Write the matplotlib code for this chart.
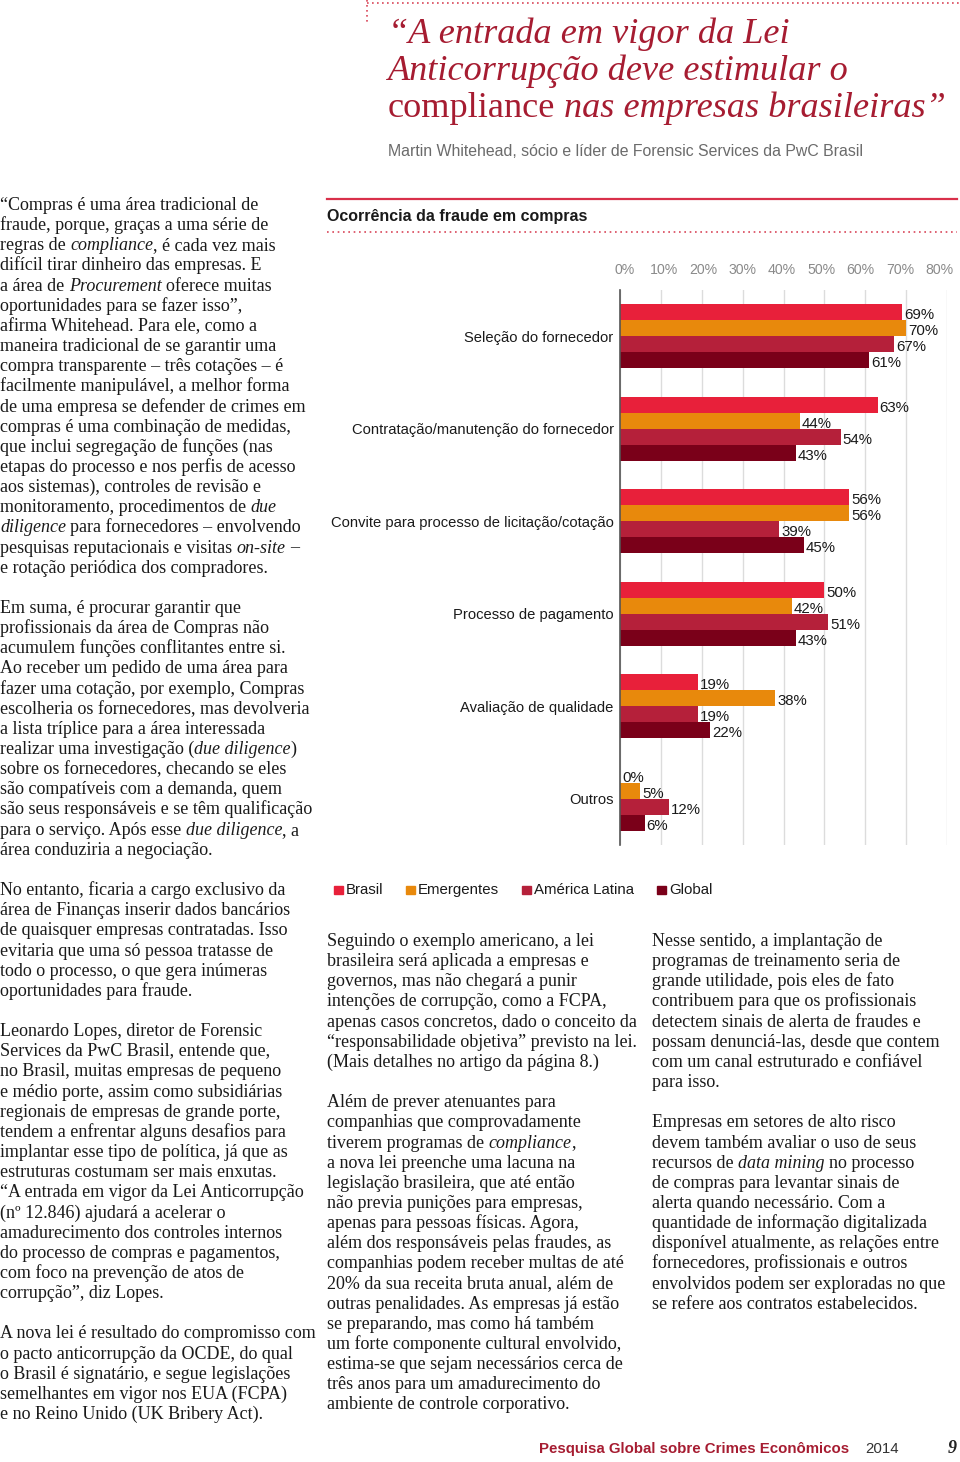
import numpy as np
import matplotlib.pyplot as plt
from matplotlib.patches import Rectangle
from matplotlib.transforms import ScaledTranslation

# dados do gráfico
categorias = ["Seleção do fornecedor",
              "Contratação/manutenção do fornecedor",
              "Convite para processo de licitação/cotação",
              "Processo de pagamento",
              "Avaliação de qualidade",
              "Outros"]
series = ["Brasil", "Emergentes", "América Latina", "Global"]
brasil = [69, 63, 56, 50, 19, 0]
emergentes = [70, 44, 56, 42, 38, 5]
america_latina = [67, 54, 39, 51, 19, 12]
global_ = [61, 43, 45, 43, 22, 6]
ticks = [0, 10, 20, 30, 40, 50, 60, 70, 80]
cores = ["#E8203A", "#E8890C", "#B5203A", "#7A0019"]

# textos da página (*...* = itálico)
titulo = ["*“A entrada em vigor da Lei*",
          "*Anticorrupção deve estimular o*",
          "compliance* nas empresas brasileiras”*"]
subtitulo = "Martin Whitehead, sócio e líder de Forensic Services da PwC Brasil"

col_esq = [
    "“Compras é uma área tradicional de",
    "fraude, porque, graças a uma série de",
    "regras de *compliance*, é cada vez mais",
    "difícil tirar dinheiro das empresas. E",
    "a área de *Procurement* oferece muitas",
    "oportunidades para se fazer isso”,",
    "afirma Whitehead. Para ele, como a",
    "maneira tradicional de se garantir uma",
    "compra transparente – três cotações – é",
    "facilmente manipulável, a melhor forma",
    "de uma empresa se defender de crimes em",
    "compras é uma combinação de medidas,",
    "que inclui segregação de funções (nas",
    "etapas do processo e nos perfis de acesso",
    "aos sistemas), controles de revisão e",
    "monitoramento, procedimentos de *due*",
    "*diligence* para fornecedores – envolvendo",
    "pesquisas reputacionais e visitas *on-site* –",
    "e rotação periódica dos compradores.",
    "",
    "Em suma, é procurar garantir que",
    "profissionais da área de Compras não",
    "acumulem funções conflitantes entre si.",
    "Ao receber um pedido de uma área para",
    "fazer uma cotação, por exemplo, Compras",
    "escolheria os fornecedores, mas devolveria",
    "a lista tríplice para a área interessada",
    "realizar uma investigação (*due diligence*)",
    "sobre os fornecedores, checando se eles",
    "são compatíveis com a demanda, quem",
    "são seus responsáveis e se têm qualificação",
    "para o serviço. Após esse *due diligence*, a",
    "área conduziria a negociação.",
    "",
    "No entanto, ficaria a cargo exclusivo da",
    "área de Finanças inserir dados bancários",
    "de quaisquer empresas contratadas. Isso",
    "evitaria que uma só pessoa tratasse de",
    "todo o processo, o que gera inúmeras",
    "oportunidades para fraude.",
    "",
    "Leonardo Lopes, diretor de Forensic",
    "Services da PwC Brasil, entende que,",
    "no Brasil, muitas empresas de pequeno",
    "e médio porte, assim como subsidiárias",
    "regionais de empresas de grande porte,",
    "tendem a enfrentar alguns desafios para",
    "implantar esse tipo de política, já que as",
    "estruturas costumam ser mais enxutas.",
    "“A entrada em vigor da Lei Anticorrupção",
    "(nº 12.846) ajudará a acelerar o",
    "amadurecimento dos controles internos",
    "do processo de compras e pagamentos,",
    "com foco na prevenção de atos de",
    "corrupção”, diz Lopes.",
    "",
    "A nova lei é resultado do compromisso com",
    "o pacto anticorrupção da OCDE, do qual",
    "o Brasil é signatário, e segue legislações",
    "semelhantes em vigor nos EUA (FCPA)",
    "e no Reino Unido (UK Bribery Act).",
]

col_meio = [
    "Seguindo o exemplo americano, a lei",
    "brasileira será aplicada a empresas e",
    "governos, mas não chegará a punir",
    "intenções de corrupção, como a FCPA,",
    "apenas casos concretos, dado o conceito da",
    "“responsabilidade objetiva” previsto na lei.",
    "(Mais detalhes no artigo da página 8.)",
    "",
    "Além de prever atenuantes para",
    "companhias que comprovadamente",
    "tiverem programas de *compliance*,",
    "a nova lei preenche uma lacuna na",
    "legislação brasileira, que até então",
    "não previa punições para empresas,",
    "apenas para pessoas físicas. Agora,",
    "além dos responsáveis pelas fraudes, as",
    "companhias podem receber multas de até",
    "20% da sua receita bruta anual, além de",
    "outras penalidades. As empresas já estão",
    "se preparando, mas como há também",
    "um forte componente cultural envolvido,",
    "estima-se que sejam necessários cerca de",
    "três anos para um amadurecimento do",
    "ambiente de controle corporativo.",
]

col_dir = [
    "Nesse sentido, a implantação de",
    "programas de treinamento seria de",
    "grande utilidade, pois eles de fato",
    "contribuem para que os profissionais",
    "detectem sinais de alerta de fraudes e",
    "possam denunciá-las, desde que contem",
    "com um canal estruturado e confiável",
    "para isso.",
    "",
    "Empresas em setores de alto risco",
    "devem também avaliar o uso de seus",
    "recursos de *data mining* no processo",
    "de compras para levantar sinais de",
    "alerta quando necessário. Com a",
    "quantidade de informação digitalizada",
    "disponível atualmente, as relações entre",
    "fornecedores, profissionais e outros",
    "envolvidos podem ser exploradas no que",
    "se refere aos contratos estabelecidos.",
]

VERMELHO = "#A61C31"
SERIF = "Liberation Serif"
SANS = "Liberation Sans"

fig = plt.figure(figsize=(9.6, 14.62), dpi=100)
page = fig.add_axes([0, 0, 1, 1])
page.set_xlim(0, 960)
page.set_ylim(1462, 0)
page.axis('off')
renderer = fig.canvas.get_renderer()


def text_width(s, **kw):
    t = page.text(0, 0, s, **kw)
    w = t.get_window_extent(renderer).width
    t.remove()
    return w


def draw_rich(x, y, line, size, color, family):
    parts = line.split('*')
    for k, part in enumerate(parts):
        if not part:
            continue
        style = 'italic' if k % 2 == 1 else 'normal'
        kw = dict(fontsize=size, family=family, style=style)
        sp = text_width('a a', **kw) - text_width('aa', **kw)
        core = part.strip(' ')
        if not core:
            x += len(part) * sp
            continue
        x += (len(part) - len(part.lstrip(' '))) * sp
        page.text(x, y, core, va='baseline', ha='left', color=color, **kw)
        x += text_width(core, **kw)
        x += (len(part) - len(part.rstrip(' '))) * sp
    return x


# tamanho do texto corrido calibrado pela largura de uma linha
w12 = text_width("de uma empresa se defender de crimes em", fontsize=12, family=SERIF)
body_size = 12 * 304 / w12
passo = 20.15


def draw_column(x, y0, lines):
    for i, line in enumerate(lines):
        if line:
            draw_rich(x, y0 + i * passo + 5, line, body_size, "#1a1a1a", SERIF)


draw_column(0, 205, col_esq)
draw_column(327, 941, col_meio)
draw_column(652, 941, col_dir)

# título
wt = text_width("“A entrada em vigor da Lei", fontsize=20, family=SERIF, style='italic')
title_size = 20 * 402 / wt
for i, line in enumerate(titulo):
    draw_rich(388, 43 + i * 37, line, title_size, VERMELHO, SERIF)
page.text(388, 156, subtitulo, fontsize=11.4, family=SANS, color="#6b6b6b", va='baseline')

# linhas pontilhadas do topo
page.plot([367, 960], [3, 3], color="#D9475A", lw=1.2, ls=(0, (1, 2)))
page.plot([367, 367], [0, 22], color="#D9475A", lw=1.2, ls=(0, (1, 2)))

# cabeçalho do gráfico
page.plot([327, 957], [199, 199], color="#D9304A", lw=1.6)
page.text(327, 221, "Ocorrência da fraude em compras", fontsize=11.5, family=SANS,
          weight='bold', color="#1a1a1a", va='baseline')
page.plot([327, 957], [232, 232], color="#D9475A", lw=1.2, ls=(0, (1, 2.2)))

# gráfico de barras
ax = fig.add_axes([620 / 960, 1 - 845 / 1462, (947 - 620) / 960, 555 / 1462])
valores = [brasil, emergentes, america_latina, global_]
y = np.arange(len(categorias))
bh = 0.173
for j, (nome, vals) in enumerate(zip(series, valores)):
    pos = y + (j - 1.5) * bh
    ax.barh(pos, vals, height=bh, color=cores[j], zorder=2)
    for p, v in zip(pos, vals):
        ax.text(v + 0.5, p + 0.03, f"{v}%", va='center', ha='left', fontsize=10.8,
                family=SANS, color="#1a1a1a", clip_on=False)

ax.set_xlim(0, 80)
ax.set_ylim(len(categorias) - 0.5, -0.5)
ax.set_xticks(ticks)
ax.set_xticklabels([f"{t}%" for t in ticks], family=SANS, fontsize=10.2, color="#8a8a8a")
ax.xaxis.tick_top()
ax.tick_params(axis='x', length=0, pad=9)
# os rótulos do original ficam um pouco mais juntos que as linhas de grade
for i, lab in enumerate(ax.get_xticklabels()):
    dx = (5 - 1.6 * i) / 100
    lab.set_transform(lab.get_transform() + ScaledTranslation(dx, 0, fig.dpi_scale_trans))
ax.set_yticks(y)
ax.set_yticklabels(categorias, family=SANS, fontsize=10.6, color="#1a1a1a")
ax.tick_params(axis='y', length=0, pad=4.5)
ax.xaxis.grid(True, color="#dcdcdc", lw=1)
ax.set_axisbelow(True)
for s in ['top', 'right', 'bottom']:
    ax.spines[s].set_visible(False)
ax.spines['left'].set_color("#555555")
ax.spines['left'].set_linewidth(1.2)
ax.spines['left'].set_zorder(3)

# legenda
leg_x = [334, 406, 522, 657]
for x, nome, c in zip(leg_x, series, cores):
    page.add_patch(Rectangle((x, 885.5), 8.5, 8.5, color=c))
    page.text(x + 12, 890, nome, fontsize=10.8, family=SANS, color="#1a1a1a", va='center')

# rodapé
page.text(539, 1453, "Pesquisa Global sobre Crimes Econômicos", fontsize=10.8, family=SANS,
          weight='bold', color=VERMELHO, va='baseline')
page.text(865, 1453, "2014", fontsize=10.8, family=SANS, color="#333333", va='baseline')
page.text(948, 1453, "9", fontsize=13, family=SERIF, weight='bold', style='italic',
          color="#222222", va='baseline')

fig.savefig("out.png", dpi=100)
